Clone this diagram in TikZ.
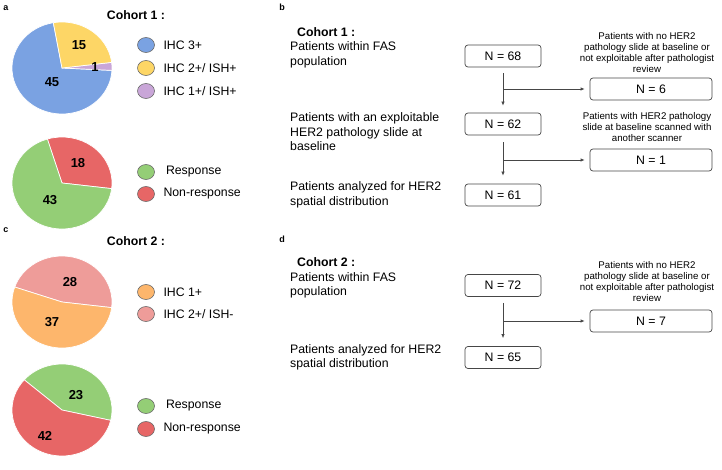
\documentclass[tikz,border=0pt]{standalone}
\usepackage{fontspec}
\setmainfont{Liberation Sans}
\usetikzlibrary{arrows.meta,positioning,shapes.geometric}

\definecolor{pieblue}{RGB}{122,162,226}
\definecolor{pieyellow}{RGB}{253,214,102}
\definecolor{piepurple}{RGB}{201,166,216}
\definecolor{piegreen}{RGB}{148,206,118}
\definecolor{piered}{RGB}{231,102,102}
\definecolor{pieorange}{RGB}{253,182,108}
\definecolor{piepink}{RGB}{238,156,153}
\definecolor{linegray}{RGB}{70,70,70}

\newcommand{\txtmain}{\fontsize{12.3}{14.5}\selectfont}
\newcommand{\txtnote}{\fontsize{9.7}{11}\selectfont}
\newcommand{\txtnum}{\fontsize{13}{15}\selectfont\bfseries}
\newcommand{\txtletter}{\fontsize{9}{10}\selectfont\bfseries}
% one slice of an elliptic pie: centre, start angle, end angle, colour
\newcommand{\pieslice}[4]{\fill[#4, draw=white, line width=0.7pt] (#1) -- ++(#2:50 and 46)
	arc[start angle=#2, end angle=#3, x radius=50, y radius=46] -- cycle;}

\tikzset{
	legdot/.style={ellipse, draw=linegray!80, line width=0.6pt, minimum width=17pt,
			minimum height=15pt, inner sep=0pt},
	legtxt/.style={font=\txtmain, inner sep=0pt, anchor=west},
	nbox/.style={draw=linegray, rounded corners=3pt, line width=0.7pt, minimum width=76pt,
			minimum height=22pt, inner sep=0pt, font=\txtmain},
	sidebox/.style={nbox, minimum width=122pt},
	rowtxt/.style={font=\txtmain, align=left, anchor=west, inner sep=0pt},
	note/.style={font=\txtnote, align=center, inner sep=0pt},
	cohort/.style={font=\txtmain\bfseries, inner sep=0pt},
	letter/.style={font=\txtletter, inner sep=0pt},
	flow/.style={draw=linegray, line width=0.7pt}
}

\begin{document}
\begin{tikzpicture}[x=1pt, y=1pt, >={Latex[length=4pt,width=3.5pt]}]
	\useasboundingbox (0,0) rectangle (722,-470);

	% panel a
	\node[letter] (la) at (6,-8) {a};
	\node[cohort] (ca) at (136,-15) {Cohort 1 :};
	\pieslice{62,-68}{100}{357}{pieblue}
	\pieslice{62,-68}{-3}{7}{piepurple}
	\pieslice{62,-68}{7}{100}{pieyellow}
	\node[font=\txtnum] (v45) at (52,-82) {45};
	\node[font=\txtnum] (v15) at (79,-45) {15};
	\node[font=\txtnum] (v1) at (95,-67) {1};
	\node[legdot, fill=pieblue] (lg1) at (146,-45) {};
	\node[legdot, fill=pieyellow] (lg2) at (146,-68) {};
	\node[legdot, fill=piepurple] (lg3) at (146,-91) {};
	\node[legtxt, right=8.5pt of lg1] (lt1) {IHC 3+};
	\node[legtxt, right=8.5pt of lg2] (lt2) {IHC 2+/ ISH+};
	\node[legtxt, right=8.5pt of lg3] (lt3) {IHC 1+/ ISH+};

	\pieslice{62,-183}{-7}{107}{piered}
	\pieslice{62,-183}{107}{353}{piegreen}
	\node[font=\txtnum] (v18) at (78,-163) {18};
	\node[font=\txtnum] (v43) at (50,-200) {43};
	\node[legdot, fill=piegreen] (lg4) at (146,-172) {};
	\node[legdot, fill=piered] (lg5) at (146,-194) {};
	\node[legtxt, right=11pt of lg4] (lt4) {Response};
	\node[legtxt, right=8.5pt of lg5] (lt5) {Non-response};

	% panel c
	\node[letter] (lc) at (6,-230) {c};
	\node[cohort] (cc) at (136,-241) {Cohort 2 :};
	\pieslice{62,-302}{-7}{161}{piepink}
	\pieslice{62,-302}{161}{353}{pieorange}
	\node[font=\txtnum] (v28) at (70,-282) {28};
	\node[font=\txtnum] (v37) at (52,-322) {37};
	\node[legdot, fill=pieorange] (lg6) at (146,-292) {};
	\node[legdot, fill=piepink] (lg7) at (146,-314) {};
	\node[legtxt, right=8.5pt of lg6] (lt6) {IHC 1+};
	\node[legtxt, right=8.5pt of lg7] (lt7) {IHC 2+/ ISH-};

	\pieslice{62,-410}{-13}{139}{piegreen}
	\pieslice{62,-410}{139}{347}{piered}
	\node[font=\txtnum] (v23) at (76,-395) {23};
	\node[font=\txtnum] (v42) at (45,-436) {42};
	\node[legdot, fill=piegreen] (lg8) at (146,-406) {};
	\node[legdot, fill=piered] (lg9) at (146,-429) {};
	\node[legtxt, right=11pt of lg8] (lt8) {Response};
	\node[legtxt, right=8.5pt of lg9] (lt9) {Non-response};

	% panel b
	\node[letter] (lb) at (282,-7) {b};
	\node[cohort, anchor=west] (cb) at (297,-32) {Cohort 1 :};
	\node[rowtxt] (r1) at (290,-55) {Patients within FAS\\population};
	\node[rowtxt] (r2) at (290,-132) {Patients with an exploitable\\HER2 pathology slide at\\baseline};
	\node[rowtxt] (r3) at (290,-195) {Patients analyzed for HER2\\spatial distribution};
	\node[nbox] (n68) at (503,-56) {N = 68};
	\node[nbox] (n62) at (503,-124) {N = 62};
	\node[nbox] (n61) at (503,-195) {N = 61};
	\node[sidebox] (n6) at (651,-89) {N = 6};
	\node[sidebox] (n1) at (651,-160) {N = 1};
	\node[note] (t6) at (647,-52.5) {Patients with no HER2\\pathology slide at baseline or\\not exploitable after pathologist\\review};
	\node[note] (t1) at (647,-127) {Patients with HER2 pathology\\slide at baseline scanned with\\another scanner};
	\draw[flow, ->] ([yshift=-6pt]n68.south) -- ([yshift=7pt]n62.north);
	\draw[flow, ->] (n68 |- n6.west) -- ([xshift=-5pt]n6.west);
	\draw[flow, ->] ([yshift=-7pt]n62.south) -- ([yshift=8pt]n61.north);
	\draw[flow, ->] (n62 |- n1.west) -- ([xshift=-5pt]n1.west);

	% panel d
	\node[letter] (ld) at (282,-239) {d};
	\node[cohort, anchor=west] (cd) at (297,-262) {Cohort 2 :};
	\node[rowtxt] (r4) at (290,-285.5) {Patients within FAS\\population};
	\node[rowtxt] (r5) at (290,-357.5) {Patients analyzed for HER2\\spatial distribution};
	\node[nbox] (n72) at (503,-285.5) {N = 72};
	\node[nbox] (n65) at (503,-357.5) {N = 65};
	\node[sidebox] (n7) at (651,-321) {N = 7};
	\node[note] (t7) at (647,-282) {Patients with no HER2\\pathology slide at baseline or\\not exploitable after pathologist\\review};
	\draw[flow, ->] ([yshift=-6pt]n72.south) -- ([yshift=8pt]n65.north);
	\draw[flow, ->] (n72 |- n7.west) -- ([xshift=-5pt]n7.west);
\end{tikzpicture}
\end{document}
